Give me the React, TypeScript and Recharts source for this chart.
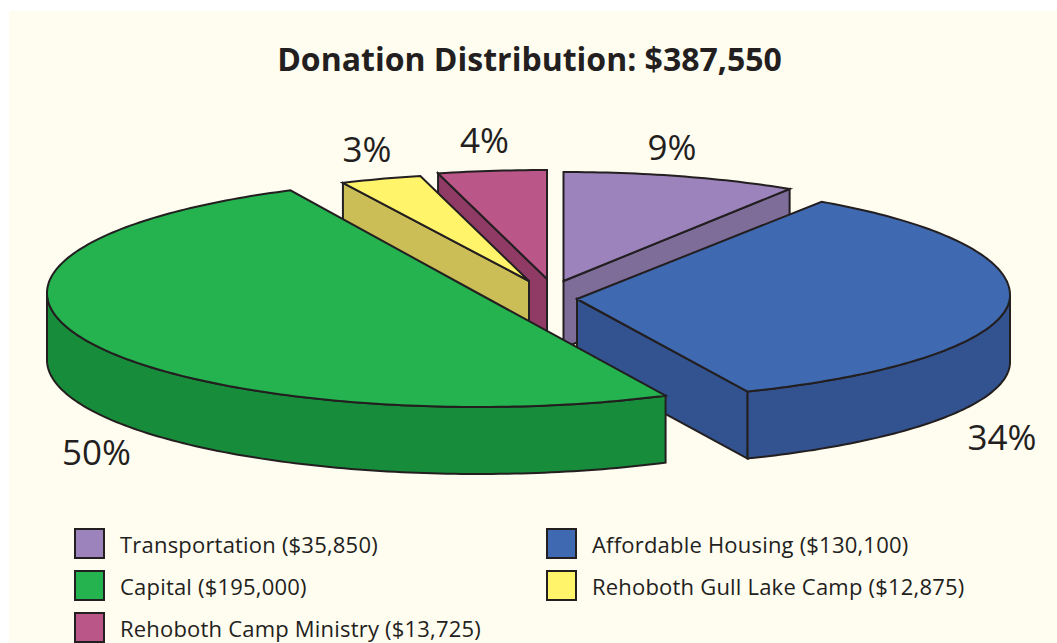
import React from 'react';
import { PieChart, Pie, Legend } from 'recharts';

const W = 1057;
const H = 643;
const TITLE = 'Donation Distribution: $387,550';

// Slices in counter-clockwise drawing order, starting at the Transportation slice.
const categories = ['Transportation', 'Rehoboth Camp Ministry', 'Rehoboth Gull Lake Camp', 'Capital', 'Affordable Housing'];
const percents = [9, 4, 3, 50, 34];
const amounts = ['$35,850', '$13,725', '$12,875', '$195,000', '$130,100'];
const topColors = ['#9C83BC', '#BB5688', '#FFF46A', '#24B34F', '#3F6AB2'];
const sideColors = ['#7E6C99', '#8F3B66', '#CCBE56', '#178C3A', '#32538F'];
const legendOrder = [0, 4, 3, 2, 1];

const pieData = categories.map((name, i) => ({ name, value: percents[i] }));

// Projection of each exploded slice: ellipse centre, apex, radii, angular correction.
const projections: Record<string, any> = {
  Transportation: { cx: 563.5, cy: 281, ax: 563.5, ay: 281, rx: 422, ryUp: 109, ryDown: 109, rot: 0 },
  'Rehoboth Camp Ministry': { cx: 547, cy: 280, ax: 547, ay: 279, rx: 438, ryUp: 110, ryDown: 110, rot: 0 },
  'Rehoboth Gull Lake Camp': { cx: 529, cy: 281, ax: 529, ay: 281, rx: 437, ryUp: 108.5, ryDown: 108.5, rot: 0 },
  Capital: { cx: 478, cy: 293, ax: 477.5, ay: 293, rx: 431, ryUp: 114, ryDown: 114, rot: 0.6 },
  'Affordable Housing': { cx: 577, cy: 295, ax: 577, ay: 299, rx: 433, ryUp: 113, ryDown: 105, rot: -2 },
};
const DEPTH = 67;
const INK = '#231F20';
const FONT = '"Open Sans", "Noto Sans", sans-serif';

const labelAnchors: Record<string, [number, number]> = {
  Transportation: [672, 160],
  'Rehoboth Camp Ministry': [484.5, 153],
  'Rehoboth Gull Lake Camp': [367, 162],
  Capital: [96.5, 465],
  'Affordable Housing': [1002, 450],
};

const toPath = (pts: number[][], close = true) =>
  pts.map((p, i) => `${i ? 'L' : 'M'}${p[0].toFixed(2)},${p[1].toFixed(2)}`).join('') + (close ? 'Z' : '');

function SliceBody({ name, startAngle, endAngle }: any) {
  const p = projections[name];
  const idx = categories.indexOf(name);
  const a0 = Math.min(startAngle, endAngle) + p.rot;
  const a1 = Math.max(startAngle, endAngle) + p.rot;
  const at = (deg: number) => {
    const r = (deg * Math.PI) / 180;
    const s = Math.sin(r);
    return [p.cx + p.rx * Math.cos(r), p.cy - (s > 0 ? p.ryUp : p.ryDown) * s];
  };
  const arc = (from: number, to: number) => {
    const n = Math.max(2, Math.ceil(to - from));
    const pts: number[][] = [];
    for (let i = 0; i <= n; i++) pts.push(at(from + ((to - from) * i) / n));
    return pts;
  };
  const apex = [p.ax, p.ay];
  const down = (q: number[]) => [q[0], q[1] + DEPTH];
  const mid = at((a0 + a1) / 2);
  const interiorAbove = (q: number[]) => {
    const dx = q[0] - apex[0];
    if (Math.abs(dx) < 2) return false;
    return mid[1] < apex[1] + ((q[1] - apex[1]) * (mid[0] - apex[0])) / dx;
  };
  const walls: number[][][] = [];
  for (const e of [at(a0), at(a1)]) {
    if (interiorAbove(e)) walls.push([apex, e, down(e), down(apex)]);
  }
  // front-facing stretch of the rim: sine of the angle is negative
  const rims: number[][][] = [];
  for (const k of [0, 360]) {
    const f = Math.max(a0, 180 + k);
    const t = Math.min(a1, 360 + k);
    if (t > f) {
      const top = arc(f, t);
      rims.push([...top, ...top.slice().reverse().map(down)]);
    }
  }
  const common = { stroke: INK, strokeWidth: 2, strokeLinejoin: 'miter' as const, strokeMiterlimit: 4 };
  return (
    <g>
      {walls.map((w, i) => <path key={`w${i}`} d={toPath(w)} fill={sideColors[idx]} {...common} />)}
      {rims.map((w, i) => <path key={`r${i}`} d={toPath(w)} fill={sideColors[idx]} {...common} />)}
      <path d={toPath([apex, ...arc(a0, a1)])} fill={topColors[idx]} {...common} />
    </g>
  );
}

const nameOf = (props: any) => props.name ?? props.payload?.name;
const backShape = (props: any) => (nameOf(props) === 'Capital' ? <g /> : <SliceBody {...props} name={nameOf(props)} />);
const frontShape = (props: any) => (nameOf(props) === 'Capital' ? <SliceBody {...props} name={nameOf(props)} /> : <g />);

const renderLabel = (props: any) => {
  const name = nameOf(props);
  const [x, y] = labelAnchors[name];
  return (
    <text x={x} y={y} textAnchor="middle" fontFamily={FONT} fontSize={35} fill={INK} key={name}>
      {percents[categories.indexOf(name)]}%
    </text>
  );
};

const renderLegend = () => (
  <div style={{ position: 'absolute', left: 0, top: 0 }}>
    {legendOrder.map((c, i) => {
      const col = i % 2;
      const row = Math.floor(i / 2);
      const left = col === 0 ? 74 : 546;
      const top = 528 + row * 42;
      return (
        <div key={c}>
          <div style={{ position: 'absolute', left, top, width: 27, height: 27, background: topColors[c], border: `2.5px solid ${INK}` }} />
          <div style={{ position: 'absolute', left: left + 46, top: top + 2, whiteSpace: 'nowrap', fontFamily: FONT, fontSize: 22, letterSpacing: 0.2, lineHeight: '29px', color: INK }}>
            {categories[c]} ({amounts[c]})
          </div>
        </div>
      );
    })}
  </div>
);

export default function App() {
  const pieProps = {
    data: pieData,
    dataKey: 'value',
    nameKey: 'name',
    cx: 478,
    cy: 293,
    outerRadius: 114,
    startAngle: 57.6,
    endAngle: 417.6,
    isAnimationActive: false,
    labelLine: false,
  };
  return (
    <div style={{ position: 'absolute', left: 0, top: 0, width: W, height: H, overflow: 'hidden', background: '#FFFFFF' }}>
      <div style={{ position: 'absolute', left: 9, top: 11, right: 0, bottom: 0, background: '#FFFCF0' }} />
      <PieChart width={W} height={H} margin={{ top: 0, right: 0, bottom: 0, left: 0 }} style={{ position: 'absolute', left: 0, top: 0 }}>
        <text x={529.5} y={71} textAnchor="middle" fontFamily={FONT} fontWeight={700} fontSize={32} fill={INK}>
          {TITLE}
        </text>
        <Pie {...pieProps} shape={backShape} />
        <Pie {...pieProps} shape={frontShape} label={renderLabel} />
        <Legend content={renderLegend} wrapperStyle={{ position: 'absolute', left: 0, top: 0, width: W, height: 0, overflow: 'visible' }} />
      </PieChart>
    </div>
  );
}
